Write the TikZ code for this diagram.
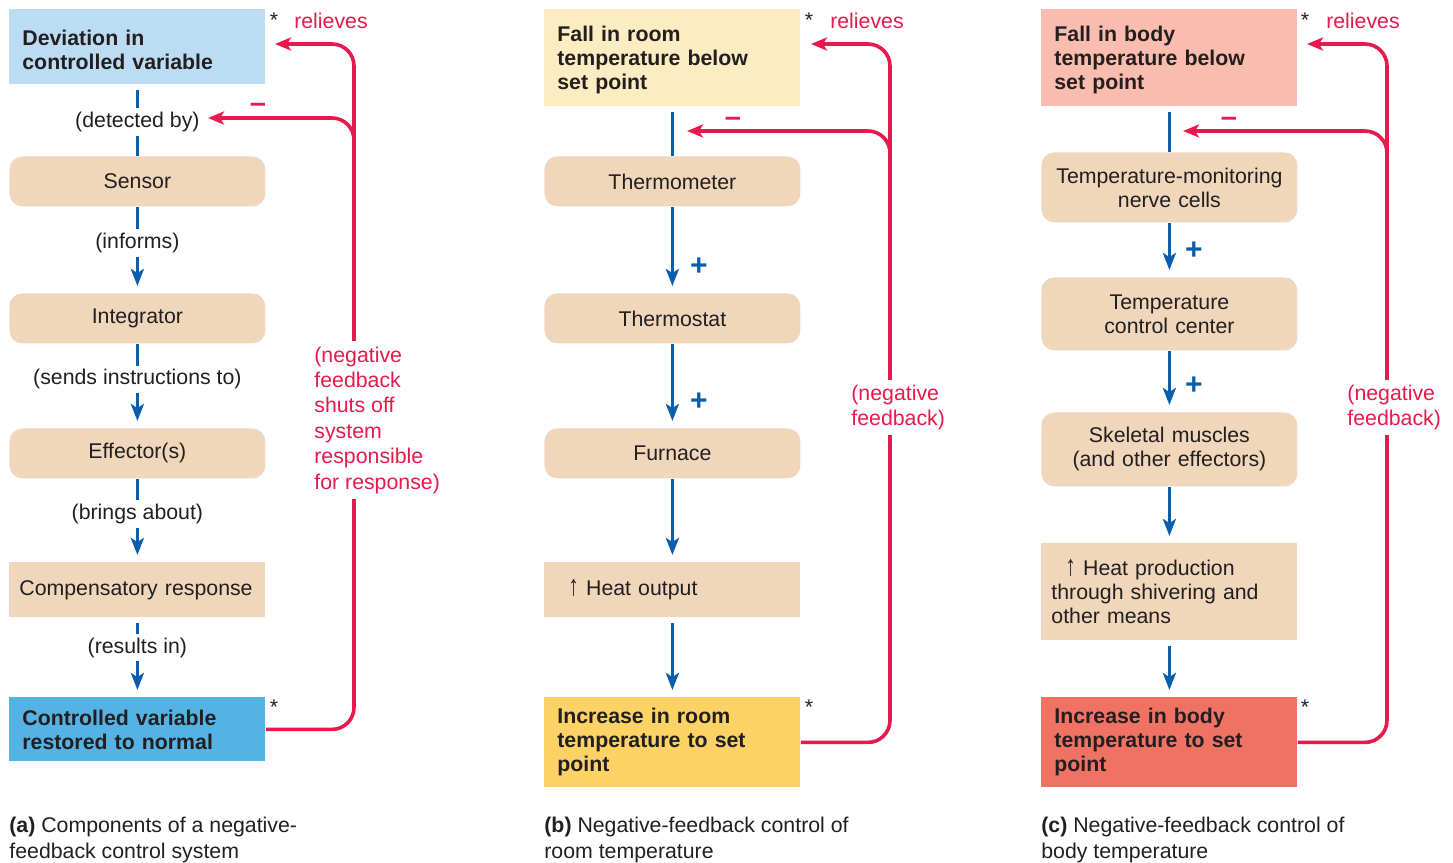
\documentclass[tikz,border=0pt]{standalone}
\usepackage{fontspec}
\setmainfont{Liberation Sans}
\usetikzlibrary{arrows.meta}

\definecolor{devblue}{HTML}{BBDCF3}
\definecolor{okblue}{HTML}{55B2E5}
\definecolor{roomlow}{HTML}{FDEBC1}
\definecolor{roomok}{HTML}{FDD264}
\definecolor{bodylow}{HTML}{F9BCAE}
\definecolor{bodyok}{HTML}{F07263}
\definecolor{tan}{HTML}{F0D6BA}
\definecolor{flowblue}{HTML}{0B5EAB}
\definecolor{fbred}{HTML}{E8194C}
\definecolor{ink}{HTML}{231F20}

\newcommand{\figfont}{\fontsize{10.65pt}{12pt}\selectfont}
\newcommand{\uparr}{\scalebox{1}[1.35]{↑}}

\tikzset{
  box/.style={anchor=north west, minimum width=128pt, inner xsep=6.5pt, inner ysep=0pt, text width=115pt, text=ink, font=\figfont},
  varbox/.style={box, align=left, font=\figfont\bfseries},
  topbox/.style={varbox, execute at begin node={\rule{0pt}{10.3pt}}},
  stepbox/.style={box, fill=tan, rounded corners=6.5pt, align=center},
  outbox/.style={box, fill=tan, inner xsep=5pt, text width=118pt, align=left},
  cue/.style={fill=white, inner xsep=2pt, inner ysep=2pt, yshift=-1pt, text=ink, font=\figfont},
  link/.style={draw=flowblue, line width=1.8pt},
  flow/.style={link, -{Stealth[length=8.5pt,width=6.5pt,inset=2pt]}, shorten >=3.5pt},
  fb/.style={draw=fbred, line width=1.8pt, rounded corners=11pt, -{Stealth[length=8pt,width=6.5pt,inset=2pt]}},
  fbtext/.style={fill=white, text=fbred, align=left, inner xsep=0pt, inner ysep=3pt, font=\fontsize{10.65pt}{12.7pt}\selectfont},
  relief/.style={anchor=base, inner sep=0pt, text=fbred, font=\figfont},
  plus/.style={anchor=base, inner sep=0pt, text=flowblue, font=\fontsize{15pt}{15pt}\selectfont\bfseries},
  minus/.style={anchor=base, inner sep=0pt, text=fbred, font=\fontsize{14.5pt}{15pt}\selectfont\bfseries},
  star/.style={anchor=base, inner sep=0pt, text=ink, font=\figfont},
  caption/.style={anchor=west, align=left, inner sep=0pt, text=ink, font=\fontsize{10.65pt}{13pt}\selectfont}
}

\begin{document}
\begin{tikzpicture}[x=0.5pt, y=-0.5pt]
  \useasboundingbox (0,0) rectangle (1453,863);

  % (a) components
  \node[topbox, fill=devblue, minimum height=37.5pt] (dev) at (9,9) {Deviation in\\controlled variable};
  \node[stepbox, minimum height=25pt] (sensor) at (9,156) {Sensor};
  \node[stepbox, minimum height=25pt] (integ) at (9,293) {Integrator};
  \node[stepbox, minimum height=25pt] (effect) at (9,428) {Effector(s)};
  \node[outbox, minimum height=27.5pt] (comp) at (9,562) {Compensatory response};
  \node[varbox, fill=okblue, minimum height=32pt] (ctrl) at (9,697) {Controlled variable\\restored to normal};

  \draw[link, shorten <=2.5pt] (dev) -- node[cue] {(detected by)} (sensor);
  \draw[flow] (sensor) -- node[cue, pos=0.4] {(informs)} (integ);
  \draw[flow] (integ) -- node[cue, pos=0.4] {(sends instructions to)} (effect);
  \draw[flow] (effect) -- node[cue, pos=0.4] {(brings about)} (comp);
  \draw[flow, shorten <=2.5pt] (comp) -- node[cue, pos=0.35] {(results in)} (ctrl);

  \coordinate (dev-in) at (275,44);
  \coordinate (det-in) at (208,118);
  \draw[fb] (ctrl.east) -| (354,44) -- (dev-in);
  \draw[fb] (354,150) |- (det-in);
  \node[fbtext, anchor=west] (fba) at (314,420) {(negative\\feedback\\shuts off\\system\\responsible\\for response)};
  \node[relief] at (331,28) {relieves};
  \node[minus] at (258,112) {–};
  \node[star] at (274,27) {*};
  \node[star] at (274,714) {*};

  % (b) room temperature
  \node[topbox, fill=roomlow, minimum height=48.5pt] (froom) at (544,9) {Fall in room\\temperature below\\set point};
  \node[stepbox, minimum height=25pt] (thermo) at (544,156) {Thermometer};
  \node[stepbox, minimum height=25pt] (tstat) at (544,293) {Thermostat};
  \node[stepbox, minimum height=25pt] (furn) at (544,428) {Furnace};
  \node[outbox, minimum height=27.5pt] (heatout) at (544,562) {\hspace*{7pt}\uparr\ Heat output};
  \node[varbox, fill=roomok, minimum height=45pt] (iroom) at (544,697) {Increase in room\\temperature to set\\point};

  \draw[link, shorten <=2.5pt] (froom) -- (thermo);
  \draw[flow] (thermo) -- (tstat);
  \draw[flow] (tstat) -- (furn);
  \draw[flow] (furn) -- (heatout);
  \draw[flow, shorten <=2.5pt] (heatout) -- (iroom);
  \node[plus] at (699,275) {+};
  \node[plus] at (699,410) {+};

  \coordinate (froom-in) at (811,44);
  \coordinate (thermo-in) at (687,131);
  \draw[fb] (iroom.east) -| (890,44) -- (froom-in);
  \draw[fb] (890,160) |- (thermo-in);
  \node[fbtext, anchor=west, inner ysep=2.5pt] (fbb) at (851,407.5) {(negative\\feedback)};
  \node[relief] at (867,28) {relieves};
  \node[minus] at (733,126) {–};
  \node[star] at (809,27) {*};
  \node[star] at (809,714) {*};

  % (c) body temperature
  \node[topbox, fill=bodylow, minimum height=48.5pt] (fbody) at (1041,9) {Fall in body\\temperature below\\set point};
  \node[stepbox, minimum height=35pt] (tmon) at (1041,152) {Temperature-monitoring\\nerve cells};
  \node[stepbox, minimum height=36.5pt] (tcc) at (1041,277) {Temperature\\control center};
  \node[stepbox, minimum height=37pt] (skel) at (1041,412) {Skeletal muscles\\(and other effectors)};
  \node[outbox, minimum height=48.5pt] (heatprod) at (1041,543) {\hspace*{7pt}\uparr\ Heat production\\through shivering and\\other means};
  \node[varbox, fill=bodyok, minimum height=45pt] (ibody) at (1041,697) {Increase in body\\temperature to set\\point};

  \draw[link, shorten <=2.5pt] (fbody) -- (tmon);
  \draw[flow] (tmon) -- (tcc);
  \draw[flow] (tcc) -- (skel);
  \draw[flow] (skel) -- (heatprod);
  \draw[flow, shorten <=2.5pt] (heatprod) -- (ibody);
  \node[plus] at (1194,259) {+};
  \node[plus] at (1194,394) {+};

  \coordinate (fbody-in) at (1307,44);
  \coordinate (tmon-in) at (1183,131);
  \draw[fb] (ibody.east) -| (1387,44) -- (fbody-in);
  \draw[fb] (1387,160) |- (tmon-in);
  \node[fbtext, anchor=west, inner ysep=2.5pt] (fbc) at (1347,407.5) {(negative\\feedback)};
  \node[relief] at (1363,28) {relieves};
  \node[minus] at (1229,126) {–};
  \node[star] at (1305,27) {*};
  \node[star] at (1305,714) {*};

  % captions
  \node[caption] (capa) at (9,840) {\textbf{(a)} Components of a negative-\\feedback control system};
  \node[caption] (capb) at (544,840) {\textbf{(b)} Negative-feedback control of\\room temperature};
  \node[caption] (capc) at (1041,840) {\textbf{(c)} Negative-feedback control of\\body temperature};
\end{tikzpicture}
\end{document}
